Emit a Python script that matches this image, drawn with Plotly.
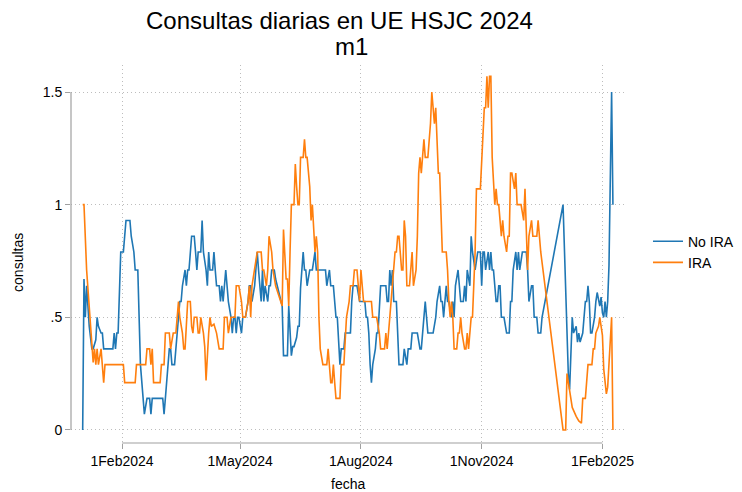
import pandas as pd
import plotly.graph_objects as go

# Day numbers counted from 2024-01-01 (0 = 1 Jan 2024) and the 14-day average values
no_ira_dia = [1,2,3,4,6,8,9,11,12,13,15,16,17,24,25,26,27,28,30,32,34,37,38,40,41,43,45,47,48,50,52,53,54,62,63,64,65,67,68,69,71,72,73,75,76,77,79,80,81,82,84,86,87,88,89,91,92,93,95,96,97,98,100,101,102,103,105,106,107,108,110,111,112,114,115,116,117,118,119,120,122,123,125,127,128,129,130,132,133,134,135,137,138,139,140,142,143,144,145,147,148,151,153,154,157,158,160,161,162,164,165,166,167,169,170,171,172,174,176,178,179,186,187,189,190,192,194,195,197,198,200,201,205,206,207,210,212,216,217,218,219,220,221,222,224,225,226,228,232,233,234,235,236,237,238,240,241,242,245,246,248,249,251,252,256,258,259,261,262,263,264,268,270,271,273,274,275,276,277,278,279,280,282,283,284,285,287,288,289,291,292,293,294,296,297,298,300,302,304,305,306,307,308,310,311,312,313,314,316,317,318,319,320,322,324,326,327,328,329,331,332,333,334,336,339,340,341,343,344,345,347,348,350,351,367,371,372,374,375,377,378,379,380,382,383,384,385,386,387,388,389,391,392,393,395,396,397,398,399,400,401,402,404,405]
no_ira_val = [0,0.67,0.5,0.64,0.46,0.36,0.36,0.4,0.5,0.46,0.43,0.43,0.36,0.36,0.43,0.36,0.43,0.43,0.79,0.79,0.93,0.93,0.86,0.79,0.71,0.71,0.29,0.14,0.07,0.14,0.14,0.07,0.14,0.14,0.07,0.14,0.21,0.36,0.36,0.29,0.29,0.36,0.43,0.57,0.57,0.64,0.71,0.64,0.71,0.71,0.86,0.86,0.79,0.71,0.79,0.79,0.93,0.79,0.71,0.64,0.79,0.71,0.71,0.79,0.71,0.64,0.64,0.57,0.64,0.57,0.71,0.64,0.57,0.5,0.43,0.5,0.5,0.43,0.5,0.5,0.43,0.5,0.5,0.57,0.64,0.64,0.57,0.64,0.71,0.79,0.71,0.57,0.71,0.57,0.64,0.57,0.64,0.64,0.71,0.71,0.67,0.6,0.55,0.33,0.33,0.55,0.33,0.37,0.37,0.41,0.46,0.46,0.63,0.79,0.71,0.71,0.64,0.71,0.71,0.79,0.71,0.71,0.64,0.71,0.64,0.64,0.5,0.5,0.29,0.36,0.36,0.43,0.43,0.57,0.64,0.64,0.57,0.57,0.5,0.5,0.43,0.29,0.21,0.29,0.36,0.43,0.43,0.64,0.64,0.57,0.57,0.71,0.64,0.71,0.57,0.57,0.43,0.29,0.29,0.36,0.29,0.36,0.36,0.43,0.43,0.36,0.36,0.5,0.57,0.5,0.43,0.43,0.5,0.57,0.64,0.57,0.57,0.5,0.57,0.64,0.57,0.57,0.5,0.57,0.5,0.64,0.71,0.64,0.57,0.57,0.64,0.57,0.71,0.64,0.86,0.79,0.71,0.79,0.79,0.64,0.79,0.79,0.71,0.79,0.71,0.79,0.71,0.71,0.57,0.57,0.64,0.64,0.5,0.5,0.43,0.43,0.57,0.57,0.71,0.79,0.71,0.79,0.71,0.79,0.79,0.71,0.57,0.64,0.64,0.5,0.5,0.43,0.43,0.5,1.0,0.25,0.18,0.5,0.43,0.46,0.39,0.43,0.39,0.43,0.5,0.57,0.57,0.64,0.57,0.43,0.43,0.5,0.57,0.61,0.55,0.59,0.52,0.5,0.57,0.5,0.57,0.73,1.5,1.0]

ira_dia = [1,2,4,6,8,9,10,11,12,13,15,16,17,18,32,33,41,42,49,50,52,53,54,55,60,61,63,64,67,68,70,72,74,75,77,78,79,81,83,84,85,86,88,89,90,91,93,94,95,97,98,99,101,103,105,108,109,111,112,114,117,118,120,122,123,125,127,128,129,130,132,134,137,138,139,141,142,143,145,146,148,152,153,154,155,156,157,158,159,160,162,163,164,165,166,167,169,170,171,172,174,175,176,177,178,179,180,181,182,184,187,188,189,190,191,192,193,194,197,198,200,201,202,204,205,207,208,210,211,212,213,214,215,221,222,225,227,228,231,232,233,235,236,237,239,240,241,242,243,244,245,246,247,248,250,251,252,253,255,256,257,258,259,261,262,264,266,267,269,270,271,272,273,274,275,278,279,280,281,282,283,284,286,287,288,289,290,292,293,294,295,297,298,300,301,304,305,306,307,308,309,310,311,312,313,315,316,317,318,319,320,321,322,324,325,326,327,328,330,331,332,335,337,338,339,340,341,343,344,347,348,350,367,369,370,372,373,374,377,379,381,382,384,386,389,390,391,392,394,395,396,397,398,400,401,402,404,405]
ira_val = [1.0,1.0,0.71,0.53,0.37,0.3,0.36,0.29,0.36,0.29,0.36,0.29,0.21,0.29,0.29,0.21,0.21,0.29,0.29,0.36,0.36,0.29,0.36,0.21,0.21,0.29,0.29,0.43,0.43,0.36,0.43,0.43,0.57,0.5,0.43,0.36,0.36,0.57,0.57,0.46,0.43,0.5,0.5,0.43,0.43,0.5,0.43,0.37,0.22,0.43,0.5,0.46,0.47,0.43,0.36,0.36,0.5,0.5,0.43,0.5,0.5,0.64,0.64,0.57,0.5,0.5,0.57,0.64,0.5,0.64,0.71,0.79,0.79,0.71,0.71,0.64,0.71,0.86,0.79,0.71,0.64,0.57,0.55,0.89,0.79,0.67,0.67,0.55,0.79,1.0,1.0,1.18,1.08,1.0,1.0,1.21,1.21,1.29,1.21,1.21,1.08,0.93,1.0,0.86,0.79,0.86,0.79,0.5,0.36,0.29,0.29,0.36,0.29,0.21,0.21,0.29,0.21,0.14,0.14,0.29,0.29,0.43,0.5,0.57,0.64,0.64,0.71,0.71,0.64,0.57,0.71,0.64,0.57,0.57,0.5,0.5,0.43,0.36,0.36,0.43,0.36,0.5,0.57,0.64,0.79,0.79,0.86,0.86,0.79,0.71,0.71,0.93,0.86,0.64,0.64,0.71,0.79,0.64,0.71,0.86,1.14,1.21,1.14,1.29,1.21,1.21,1.36,1.5,1.36,1.43,1.29,1.14,1.14,0.93,0.79,0.79,0.71,0.57,0.5,0.57,0.5,0.36,0.36,0.43,0.43,0.5,0.43,0.36,0.36,0.43,0.36,0.5,0.5,0.79,1.07,1.07,1.21,1.36,1.43,1.43,1.57,1.43,1.57,1.57,1.21,1.0,1.07,1.0,1.0,0.93,0.86,0.93,0.86,0.79,0.86,0.86,1.14,1.14,1.07,1.14,1.0,1.0,0.93,1.07,0.93,0.71,0.86,0.93,0.86,0.86,0.93,0.79,0.0,0.0,0.25,0.18,0.13,0.1,0.06,0.04,0.03,0.14,0.14,0.29,0.29,0.36,0.36,0.43,0.46,0.5,0.46,0.42,0.27,0.16,0.19,0.28,0.5,0.0]

x_tick_vals = ["2024-02-01", "2024-05-01", "2024-08-01", "2024-11-01", "2025-02-01"]
x_tick_text = ["1Feb2024", "1May2024", "1Aug2024", "1Nov2024", "1Feb2025"]
y_tick_vals = [0, 0.5, 1, 1.5]
y_tick_text = ["0", ".5", "1", "1.5"]

base = pd.Timestamp("2024-01-01")
to_date = lambda days: [base + pd.Timedelta(days=d) for d in days]

FONT = "Liberation Sans, Arial, sans-serif"
AX = "#a0a0a0"
GRID = "#bdbdbd"
DASH = "1px,3px"

fig = go.Figure()
fig.add_trace(go.Scatter(x=to_date(no_ira_dia), y=no_ira_val, mode="lines", name="No IRA",
                         line=dict(color="#1f77b4", width=1.6)))
fig.add_trace(go.Scatter(x=to_date(ira_dia), y=ira_val, mode="lines", name="IRA",
                         line=dict(color="#ff7f0e", width=1.6)))

fig.update_layout(
    width=742, height=492,
    margin=dict(l=71, r=117, t=65, b=49, autoexpand=False),
    paper_bgcolor="white", plot_bgcolor="white",
    font=dict(family=FONT, size=14, color="black"),
    showlegend=True,
    legend=dict(x=1.0415, xanchor="left", y=0.505, yanchor="middle",
                font=dict(size=14), bgcolor="rgba(0,0,0,0)", tracegroupgap=0),
    xaxis=dict(
        range=[base + pd.Timedelta(days=-7.9), base + pd.Timedelta(days=414.2)],
        tickvals=x_tick_vals, ticktext=x_tick_text,
        showgrid=True, gridcolor=GRID, griddash=DASH, gridwidth=1,
        showline=False, zeroline=False, automargin=False,
        ticks="outside", ticklen=5, tickcolor=AX, tickwidth=1.2,
        tickfont=dict(size=14, color="black"),
    ),
    yaxis=dict(
        range=[-0.058, 1.62],
        tickvals=y_tick_vals, ticktext=y_tick_text,
        showgrid=True, gridcolor=GRID, griddash=DASH, gridwidth=1,
        showline=False, zeroline=False, automargin=False,
        ticks="outside", ticklen=5, tickcolor=AX, tickwidth=1.2,
        tickfont=dict(size=14, color="black"),
    ),
    shapes=[
        dict(type="line", xref="paper", x0=0, x1=0, yref="y", y0=0, y1=1.5,
             line=dict(color=AX, width=1.2)),
        dict(type="line", xref="x", x0=x_tick_vals[0], x1=x_tick_vals[-1], yref="paper", y0=0, y1=0,
             line=dict(color=AX, width=1.2)),
    ],
    annotations=[
        dict(text="Consultas diarias en UE HSJC 2024", xref="paper", yref="paper",
             x=0.4838, y=1.119, xanchor="center", yanchor="middle", showarrow=False,
             font=dict(size=24, color="black")),
        dict(text="m1", xref="paper", yref="paper",
             x=0.5072, y=1.050, xanchor="center", yanchor="middle", showarrow=False,
             font=dict(size=24, color="black")),
        dict(text="fecha", xref="paper", yref="paper",
             x=0.5, y=-0.1085, xanchor="center", yanchor="middle", showarrow=False,
             font=dict(size=14, color="black")),
        dict(text="consultas", xref="paper", yref="paper", textangle=-90,
             x=-0.0957, y=0.479, xanchor="center", yanchor="middle", showarrow=False,
             font=dict(size=14, color="black")),
    ],
)

fig.write_html("out.html", config={"displayModeBar": False},
               post_script="document.body.style.margin='0';document.body.style.padding='0';")
